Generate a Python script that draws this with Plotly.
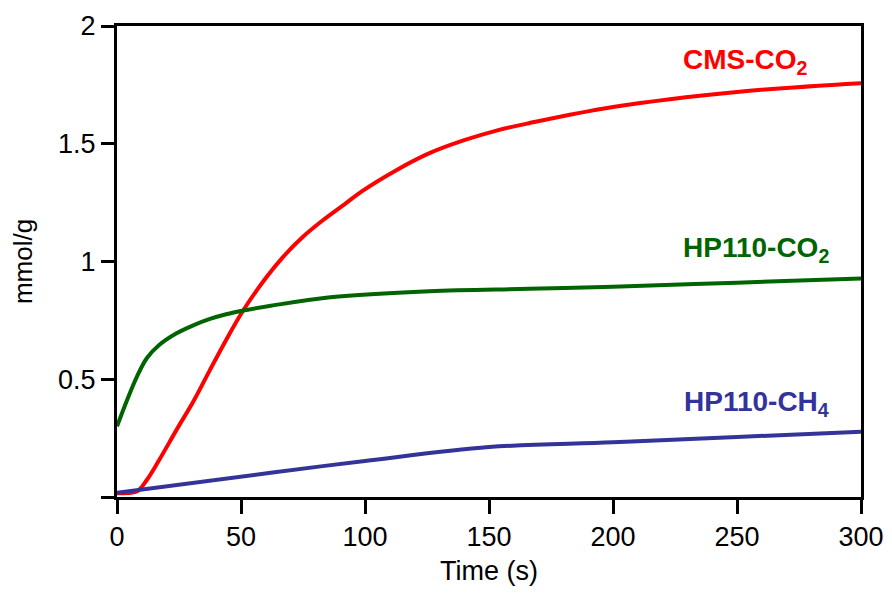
import plotly.graph_objects as go

# Data
cms_co2_t = [0, 4, 8, 12, 17, 24, 31, 37.5, 44, 51, 60, 67, 75, 83, 92, 99, 113, 126,
             140, 153, 166, 200, 250, 300]
cms_co2_q = [0.016, 0.017, 0.023, 0.072, 0.157, 0.285, 0.41, 0.54, 0.667, 0.794, 0.93,
             1.02, 1.105, 1.175, 1.245, 1.30, 1.39, 1.46, 1.515, 1.556, 1.587, 1.656,
             1.72, 1.757]

hp_co2_t = [0, 4, 8, 12, 17, 24, 31, 37.5, 44, 51, 62, 86, 126, 166, 200, 250, 300]
hp_co2_q = [0.30, 0.41, 0.51, 0.589, 0.645, 0.695, 0.73, 0.756, 0.776, 0.792, 0.812,
            0.848, 0.874, 0.884, 0.893, 0.91, 0.928]

hp_ch4_t = [0, 62, 100, 150, 200, 250, 300]
hp_ch4_q = [0.018, 0.103, 0.153, 0.212, 0.232, 0.255, 0.277]

x_ticks = [0, 50, 100, 150, 200, 250, 300]
y_ticks = [0, 0.5, 1, 1.5, 2]
y_tick_text = ["", "0.5", "1", "1.5", "2"]

labels = ["CMS-CO<sub>2</sub>", "HP110-CO<sub>2</sub>", "HP110-CH<sub>4</sub>"]
label_x = [279.5, 288, 288]
label_y = [1.85, 1.05, 0.395]
colors = ["#FF0000", "#006400", "#333399"]

FONT = "Arial"

fig = go.Figure()
for t, q, c in [(cms_co2_t, cms_co2_q, colors[0]),
                (hp_co2_t, hp_co2_q, colors[1]),
                (hp_ch4_t, hp_ch4_q, colors[2])]:
    fig.add_trace(go.Scatter(x=t, y=q, mode="lines",
                             line=dict(color=c, width=4, shape="spline", smoothing=1),
                             showlegend=False, hoverinfo="skip"))

for txt, lx, ly, c in zip(labels, label_x, label_y, colors):
    fig.add_annotation(x=lx, y=ly, xref="x", yref="y", text=f"<b>{txt}</b>",
                       showarrow=False, xanchor="right", yanchor="middle",
                       font=dict(family=FONT, size=28, color=c))

# page body has an 8px margin: compensate so the plot area lands at 117..861 x 26..497
fig.update_layout(
    width=884, height=585,
    margin=dict(l=109, r=31, t=18, b=96, autoexpand=False),
    paper_bgcolor="white", plot_bgcolor="white",
    font=dict(family=FONT, color="black", size=27),
)
fig.update_xaxes(
    range=[0, 300], tickvals=x_ticks, ticks="outside", ticklen=14, tickwidth=3,
    tickcolor="black", showline=True, linecolor="black", linewidth=3, mirror=True,
    showgrid=False, zeroline=False, tickfont=dict(size=27, family=FONT),
    title=dict(text="Time (s)", font=dict(size=27, family=FONT), standoff=10),
    automargin=False,
)
fig.update_yaxes(
    range=[0, 2], tickvals=y_ticks, ticktext=y_tick_text, ticks="outside", ticklen=13,
    tickwidth=3, tickcolor="black", showline=True, linecolor="black", linewidth=3,
    mirror=True, showgrid=False, zeroline=False, tickfont=dict(size=27, family=FONT),
    title=dict(text="mmol/g", font=dict(size=26, family=FONT), standoff=22),
    automargin=False,
)

fig.write_html("out.html")
